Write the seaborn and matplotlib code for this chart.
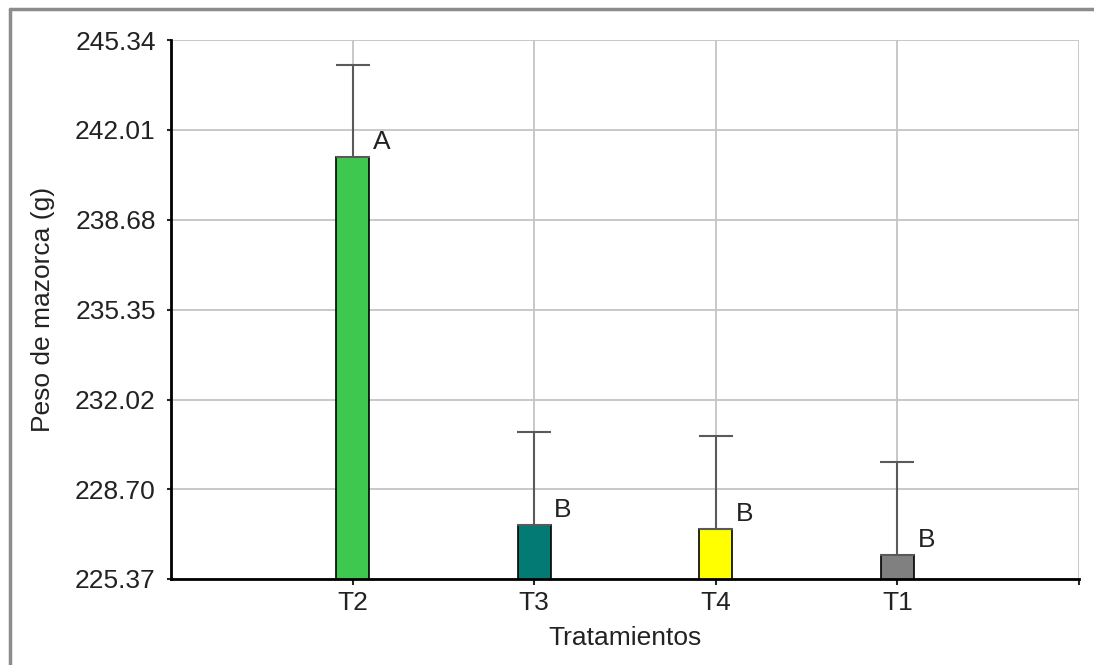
import matplotlib
matplotlib.use("Agg")
import matplotlib.pyplot as plt
from matplotlib.lines import Line2D
import seaborn as sns

# datos
tratamientos = ["T2", "T3", "T4", "T1"]
peso_medio = [241.00, 227.38, 227.23, 226.27]
error_sup = [3.42, 3.42, 3.42, 3.42]
letras = ["A", "B", "B", "B"]
colores = ["#3fc84f", "#037a73", "#ffff00", "#808080"]
y_ticks = [225.37, 228.70, 232.02, 235.35, 238.68, 242.01, 245.34]

sns.set_style("white")
plt.rcParams["font.family"] = ["Liberation Sans", "DejaVu Sans"]

fig = plt.figure(figsize=(10.94, 6.65), dpi=100)
ax = fig.add_axes([171 / 1094, 1 - 579 / 665, 908 / 1094, 539 / 665])

sns.barplot(x=tratamientos, y=peso_medio, hue=tratamientos, palette=colores,
            width=0.18, edgecolor="black", linewidth=1.2, legend=False,
            saturation=1, ax=ax, zorder=2)

pos = list(range(len(tratamientos)))
ax.errorbar(pos, peso_medio, yerr=[[0] * len(pos), error_sup], fmt="none",
            ecolor="#5a5a5a", elinewidth=1.5, capsize=12, capthick=1.5, zorder=3)

for i, (m, l) in enumerate(zip(peso_medio, letras)):
    ax.text(i + 0.11, m + 0.3, l, ha="left", va="baseline", fontsize=19,
            color="#222222")

ax.set_ylim(y_ticks[0], y_ticks[-1])
ax.set_yticks(y_ticks)
ax.set_yticklabels([f"{v:.2f}" for v in y_ticks])
ax.set_xlim(-1, 4)
ax.set_xticks(pos + [4])
ax.set_xticklabels(tratamientos + [""])

ax.grid(True, color="#c4c4c4", linewidth=1.3)
ax.set_axisbelow(True)

for s in ["top", "right"]:
    ax.spines[s].set_visible(False)
for s in ["left", "bottom"]:
    ax.spines[s].set_color("black")
    ax.spines[s].set_linewidth(2)

ax.tick_params(axis="y", direction="out", length=3, width=1.5, pad=8,
               labelsize=19, labelcolor="#222222", left=True)
ax.tick_params(axis="x", direction="out", length=4, width=1.5, pad=5,
               labelsize=19, labelcolor="#222222", bottom=True)

ax.set_xlabel("Tratamientos", fontsize=19, color="#222222")
ax.set_ylabel("Peso de mazorca (g)", fontsize=19, color="#222222")
ax.xaxis.set_label_coords(0.5, -0.087)
ax.yaxis.set_label_coords(-0.128, 0.5)

# marco gris exterior
fig.add_artist(Line2D([9.5 / 1094, 9.5 / 1094], [0, 1 - 8.5 / 665],
                      transform=fig.transFigure, color="#8c8c8c", lw=2.5))
fig.add_artist(Line2D([9.5 / 1094, 1], [1 - 8.5 / 665, 1 - 8.5 / 665],
                      transform=fig.transFigure, color="#8c8c8c", lw=2.5))

fig.savefig("out.png", dpi=100)
